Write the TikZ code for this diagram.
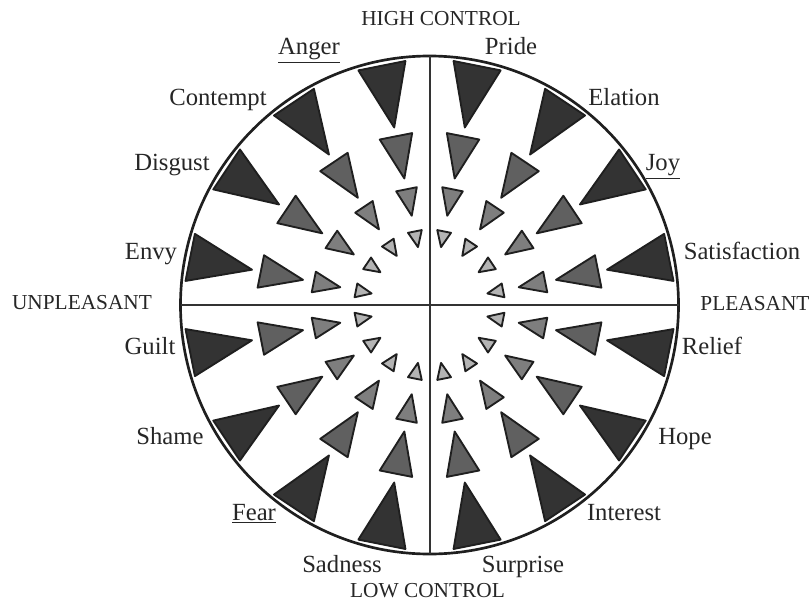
\documentclass[tikz,border=0pt]{standalone}
\usepackage{fontspec}
\setmainfont{Liberation Serif}
\usetikzlibrary{calc}
\usepackage{xcolor}
\definecolor{triA}{HTML}{333333}
\definecolor{triB}{HTML}{606060}
\definecolor{triC}{HTML}{7E7E7E}
\definecolor{triD}{HTML}{B4B4B4}

\begin{document}
\begin{tikzpicture}[
    x=0.75pt, y=-0.75pt,
    emo/.style={anchor=base,inner sep=0pt,text=black!85,font=\fontsize{18.5}{20}\selectfont},
    pole/.style={anchor=base,inner sep=0pt,text=black!85,font=\fontsize{16}{18}\selectfont},
    tri/.style={draw=black!88,line width=1.4pt,line join=round}
  ]
  \useasboundingbox (0,0) rectangle (812,602);
  \coordinate (c) at (429.5,305);
  % Wheel and axes
  \draw[line width=2pt,black!88] (c) circle (249);
  \draw[line width=1.5pt,black!80] ($(c)+(-249,0)$) -- ($(c)+(249,0)$);
  \draw[line width=1.5pt,black!80] ($(c)+(0,-249)$) -- ($(c)+(0,249)$);
  % Spokes of triangles
  \foreach \k in {0,...,15} {
    \pgfmathsetmacro\ang{11.25+22.5*\k}
    \begin{scope}[shift={(c)},rotate=\ang]
      \foreach \rb/\ra/\hw/\col in {244/181/24/triA, 172/129/16.5/triB, 118/91/10.5/triC, 75/59/7/triD} {
        \filldraw[tri,fill=\col] (\rb,\hw) -- (\rb,-\hw) -- (\ra,0) -- cycle;
      }
    \end{scope}
  }
  % Poles
  \node[pole] (high) at (441,26) {HIGH CONTROL};
  \node[pole] (low) at (427.5,597) {LOW CONTROL};
  \node[pole] (unpl) at (82,309) {UNPLEASANT};
  \node[pole] (pl) at (755,310) {PLEASANT};
  % Emotions
  \foreach \nm/\px/\py/\txt in {anger/309/55/\underline{Anger}, pride/511/55/Pride,
      contempt/218/106/Contempt, elation/624/106/Elation,
      disgust/172/171/Disgust, joy/663/171/\underline{Joy},
      envy/151/259/Envy, satisf/742/259/Satisfaction,
      guilt/150/354/Guilt, relief/712/354/Relief,
      shame/170/444/Shame, hope/685/444/Hope,
      fear/254/520/\underline{Fear}, interest/624/520/Interest,
      sadness/342/572/Sadness, surprise/523/572/Surprise} {
    \node[emo] (\nm) at (\px,\py) {\txt};
  }
\end{tikzpicture}
\end{document}
